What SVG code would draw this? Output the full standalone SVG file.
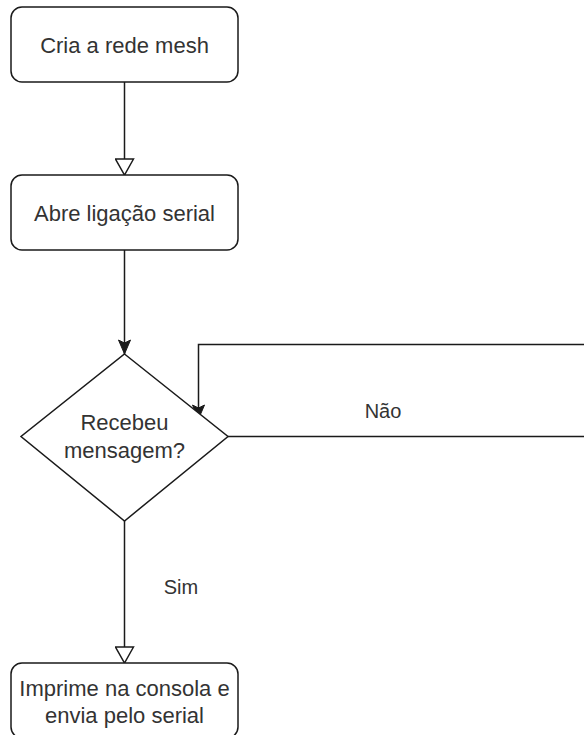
<svg xmlns="http://www.w3.org/2000/svg" width="584" height="735" viewBox="0 0 584 735">
  <style>
    .shape { fill: #ffffff; stroke: #1a1a1a; stroke-width: 1.5; }
    .edge { fill: none; stroke: #1a1a1a; stroke-width: 1.5; }
    .node-text { font-family: "Liberation Sans", Arial, sans-serif; font-size: 22px; fill: #333333; text-anchor: middle; dominant-baseline: central; }
    .edge-text { font-family: "Liberation Sans", Arial, sans-serif; font-size: 20px; fill: #333333; text-anchor: middle; dominant-baseline: central; }
  </style>
  <defs>
    <marker id="hollow" viewBox="0 0 18 20" refX="17" refY="10" markerWidth="18" markerHeight="20" markerUnits="userSpaceOnUse" orient="auto">
      <path d="M1,1 L17,10 L1,19 Z" fill="#ffffff" stroke="#1a1a1a" stroke-width="1.5"/>
    </marker>
    <marker id="solid" viewBox="0 0 16 14" refX="15" refY="7" markerWidth="16" markerHeight="14" markerUnits="userSpaceOnUse" orient="auto">
      <path d="M1,1 L15,7 L1,13 L4,7 Z" fill="#1a1a1a" stroke="#1a1a1a" stroke-width="1"/>
    </marker>
  </defs>

  <g id="connectors">
    <path class="edge" d="M124.5,82 L124.5,175" marker-end="url(#hollow)"/>
    <path class="edge" d="M124.5,250 L124.5,354" marker-end="url(#solid)"/>
    <path class="edge" d="M228,436.5 L590,436.5 M590,344.5 L198.5,344.5 L198.5,419" marker-end="url(#solid)"/>
    <path class="edge" d="M124.5,521 L124.5,663" marker-end="url(#hollow)"/>
    <text class="edge-text" x="383" y="411">Não</text>
    <text class="edge-text" x="181" y="587">Sim</text>
  </g>

  <g id="node-cria">
    <rect class="shape" x="11" y="7" width="227" height="75" rx="11"/>
    <text class="node-text" x="124.5" y="45">Cria a rede mesh</text>
  </g>

  <g id="node-abre">
    <rect class="shape" x="11" y="175" width="227" height="75" rx="11"/>
    <text class="node-text" x="124.5" y="213">Abre ligação serial</text>
  </g>

  <g id="node-recebeu">
    <path class="shape" d="M124.5,354 L228,436.5 L124.5,521 L21,436.5 Z"/>
    <text class="node-text" x="124.5" y="422">Recebeu</text>
    <text class="node-text" x="124.5" y="450">mensagem?</text>
  </g>

  <g id="node-imprime">
    <rect class="shape" x="11" y="663" width="227" height="75" rx="11"/>
    <text class="node-text" x="124.5" y="688">Imprime na consola e</text>
    <text class="node-text" x="124.5" y="715">envia pelo serial</text>
  </g>
</svg>
